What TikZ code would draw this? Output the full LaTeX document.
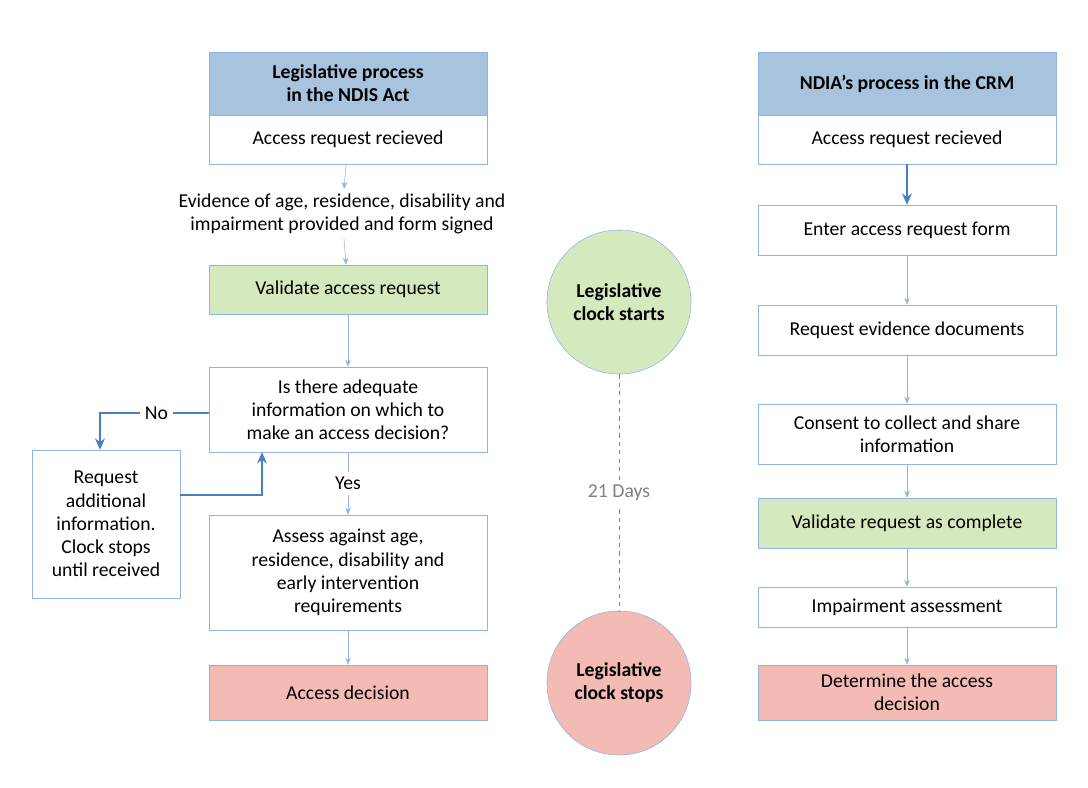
\documentclass[tikz,border=0pt]{standalone}
\usepackage{fontspec}
\setmainfont{Carlito}
\usetikzlibrary{positioning,arrows.meta}
\definecolor{hdrblue}{HTML}{A7C3DE}
\definecolor{okgreen}{HTML}{D5E9BF}
\definecolor{stopred}{HTML}{F4BAB4}
\definecolor{edgeblue}{HTML}{8EB4E3}
\definecolor{linkblue}{HTML}{4A7EC2}
\tikzset{
  box/.style={draw=edgeblue, fill=white, align=center, inner sep=2pt, font=\fontsize{14}{16.5}\selectfont},
  flow/.style={draw=edgeblue, -{Stealth[length=5pt,width=4pt]}},
  loop/.style={draw=linkblue, line width=1.4pt, -{Stealth[length=8pt,width=7pt]}},
  clock/.style={circle, draw=edgeblue, minimum size=3.6cm, align=center, font=\bfseries\fontsize{14}{16.5}\selectfont}
}
\begin{document}
\begin{tikzpicture}[x=0.025cm,y=-0.025cm]
    \useasboundingbox (0,0) rectangle (1088,788);
    % Left column: legislative process
    \node[box, fill=hdrblue, minimum width=278*0.025cm, minimum height=63*0.025cm, font=\bfseries\fontsize{14}{16.5}\selectfont] (lhead) at (348,83.5) {Legislative process\\in the NDIS Act};
    \node[box, minimum width=278*0.025cm, minimum height=49*0.025cm] (lrecv) at (348,139.5) {Access request recieved};
    \node[align=center, font=\fontsize{14}{16.5}\selectfont] (evid) at (342,214) {Evidence of age, residence, disability and\\impairment provided and form signed};
    \node[box, fill=okgreen, minimum width=278*0.025cm, minimum height=49*0.025cm] (lvalid) at (348,289.5) {Validate access request};
    \node[box, minimum width=278*0.025cm, minimum height=85*0.025cm] (ask) at (348,409.5) {Is there adequate\\information on which to\\make an access decision?};
    \node[box, minimum width=148*0.025cm, minimum height=148*0.025cm] (more) at (106,524) {Request\\additional\\information.\\Clock stops\\until received};
    \node[box, minimum width=278*0.025cm, minimum height=115*0.025cm] (assess) at (348,572.5) {Assess against age,\\residence, disability and\\early intervention\\requirements};
    \node[box, fill=stopred, minimum width=278*0.025cm, minimum height=55*0.025cm] (ldecide) at (348,692.5) {Access decision};

    \draw[flow] (lrecv) -- (evid);
    \draw[flow] (evid) -- (lvalid);
    \draw[flow] (lvalid) -- (ask);
    \draw[flow] (ask) -- node[fill=white, font=\fontsize{14}{16.5}\selectfont] {Yes} (assess);
    \draw[flow] (assess) -- (ldecide);
    % No loop
    \coordinate (nocorner) at (100,413);
    \draw[loop] (ask.west |- nocorner) -- node[fill=white, font=\fontsize{14}{16.5}\selectfont, pos=0.48] {No} (nocorner) -- (more.north -| nocorner);
    \coordinate (backcorner) at (262,495);
    \draw[loop] (more.east |- backcorner) -- (backcorner) -- (ask.south -| backcorner);

    % Middle: clock
    \node[clock, fill=okgreen] (cstart) at (619,302) {Legislative\\clock starts};
    \node[clock, fill=stopred] (cstop) at (619,683) {Legislative\\clock stops};
    \draw[gray, dashed] (cstart) -- node[fill=white, font=\fontsize{14}{16.5}\selectfont] {21 Days} (cstop);

    % Right column: NDIA process
    \node[box, fill=hdrblue, minimum width=298*0.025cm, minimum height=63*0.025cm, font=\bfseries\fontsize{14}{16.5}\selectfont] (rhead) at (907,83.5) {NDIA’s process in the CRM};
    \node[box, minimum width=298*0.025cm, minimum height=49*0.025cm] (rrecv) at (907,139.5) {Access request recieved};
    \node[box, minimum width=298*0.025cm, minimum height=50*0.025cm] (enter) at (907,230) {Enter access request form};
    \node[box, minimum width=298*0.025cm, minimum height=50*0.025cm] (docs) at (907,330) {Request evidence documents};
    \node[box, minimum width=298*0.025cm, minimum height=60*0.025cm] (consent) at (907,434) {Consent to collect and share\\information};
    \node[box, fill=okgreen, minimum width=298*0.025cm, minimum height=50*0.025cm] (rvalid) at (907,523) {Validate request as complete};
    \node[box, minimum width=298*0.025cm, minimum height=40*0.025cm] (impair) at (907,607) {Impairment assessment};
    \node[box, fill=stopred, minimum width=298*0.025cm, minimum height=55*0.025cm] (rdecide) at (907,692.5) {Determine the access\\decision};

    \draw[loop, line width=1.2pt] (rrecv) -- (enter);
    \draw[flow] (enter) -- (docs);
    \draw[flow] (docs) -- (consent);
    \draw[flow] (consent) -- (rvalid);
    \draw[flow] (rvalid) -- (impair);
    \draw[flow] (impair) -- (rdecide);
\end{tikzpicture}
\end{document}
